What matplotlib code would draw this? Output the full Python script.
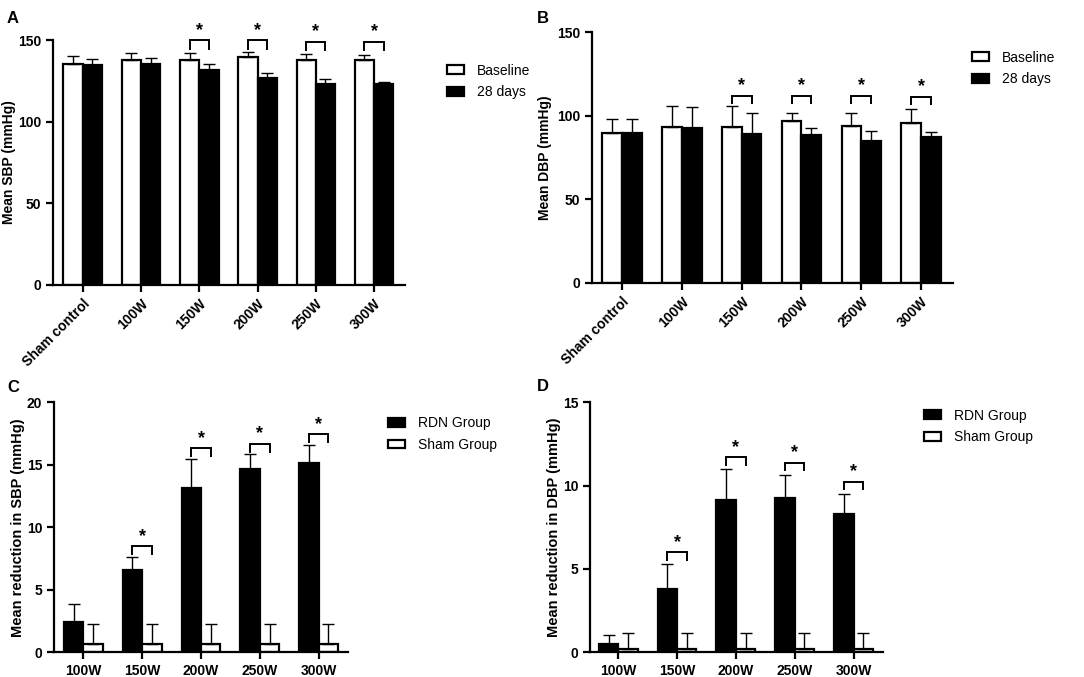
import matplotlib
matplotlib.use("Agg")
import matplotlib.pyplot as plt
import numpy as np

plt.rcParams['font.family'] = ['Liberation Sans', 'DejaVu Sans']

# ---------------- data ----------------
groups_ab = ["Sham control", "100W", "150W", "200W", "250W", "300W"]
sbp_base = [135.1, 138.0, 138.0, 139.4, 137.6, 138.0]
sbp_base_err = [5.3, 3.8, 3.8, 3.5, 3.6, 2.8]
sbp_28 = [134.5, 135.5, 131.4, 126.5, 123.3, 123.3]
sbp_28_err = [3.9, 3.7, 3.9, 3.5, 3.0, 1.2]
sbp_sig = [False, False, True, True, True, True]
sbp_bracket = [150, 150, 150, 150, 149, 149]

dbp_base = [89.5, 93.0, 93.0, 97.0, 94.0, 95.5]
dbp_base_err = [8.4, 12.5, 12.5, 4.5, 7.3, 8.2]
dbp_28 = [89.5, 92.7, 89.3, 88.3, 84.7, 87.3]
dbp_28_err = [8.8, 12.2, 12.0, 4.2, 6.3, 3.0]
dbp_sig = [False, False, True, True, True, True]
dbp_bracket = [112, 112, 112, 112, 112, 111.4]

groups_cd = ["100W", "150W", "200W", "250W", "300W"]
red_sbp_rdn = [2.45, 6.61, 13.15, 14.64, 15.12]
red_sbp_rdn_err = [1.42, 1.04, 2.35, 1.20, 1.47]
red_sbp_sham = [0.69, 0.69, 0.69, 0.69, 0.69]
red_sbp_sham_err = [1.60, 1.60, 1.60, 1.60, 1.60]
red_sbp_sig = [False, True, True, True, True]

red_dbp_rdn = [0.48, 3.80, 9.12, 9.28, 8.30]
red_dbp_rdn_err = [0.54, 1.48, 1.88, 1.38, 1.22]
red_dbp_sham = [0.20, 0.20, 0.20, 0.20, 0.20]
red_dbp_sham_err = [0.98, 0.98, 0.98, 0.98, 0.98]
red_dbp_sig = [False, True, True, True, True]

# ---------------- figure ----------------
fig = plt.figure(figsize=(10.84, 6.77), dpi=100)

W, H = 1084, 677
def rect(l, r, t, b):
    return [l / W, 1 - b / H, (r - l) / W, (b - t) / H]

axA = fig.add_axes(rect(53, 405, 40, 285))
axB = fig.add_axes(rect(591.7, 953, 32, 283))
axC = fig.add_axes(rect(54, 348, 402.3, 652.3))
axD = fig.add_axes(rect(590, 883, 402.3, 652.3))

BW = 0.33
LW = 1.6

def style_axis(ax):
    for s in ['top', 'right']:
        ax.spines[s].set_visible(False)
    for s in ['left', 'bottom']:
        ax.spines[s].set_linewidth(1.6)
    ax.tick_params(axis='both', width=1.6, length=5, labelsize=10, direction='out')
    for lab in ax.get_yticklabels() + ax.get_xticklabels():
        lab.set_fontweight('bold')

def bracket(ax, x, y, leg, star_off):
    xs = [x - BW / 2, x - BW / 2, x + BW / 2, x + BW / 2]
    ys = [y - leg, y, y, y - leg]
    ax.plot(xs, ys, color='black', lw=1.4, clip_on=False, zorder=5,
            solid_capstyle='butt', solid_joinstyle='miter')
    ax.annotate('*', xy=(x, y), xytext=(0, star_off), textcoords='offset points',
                ha='center', va='center', fontsize=13, fontweight='bold',
                annotation_clip=False)

def pair_bars(ax, x, v1, e1, c1, v2, e2, c2, lab1, lab2):
    b1 = ax.bar(x - BW / 2, v1, BW, facecolor=c1, edgecolor='black', linewidth=LW,
                label=lab1, zorder=2)
    b2 = ax.bar(x + BW / 2, v2, BW, facecolor=c2, edgecolor='black', linewidth=LW,
                label=lab2, zorder=2)
    ax.errorbar(x - BW / 2, v1, yerr=[np.zeros(len(v1)), e1], fmt='none',
                ecolor='black', elinewidth=1.0, capsize=4, capthick=1.0, zorder=3)
    ax.errorbar(x + BW / 2, v2, yerr=[np.zeros(len(v2)), e2], fmt='none',
                ecolor='black', elinewidth=1.0, capsize=4, capthick=1.0, zorder=3)
    return b1, b2

# ---- Panel A ----
x6 = np.arange(len(groups_ab))
hA = pair_bars(axA, x6, sbp_base, sbp_base_err, 'white', sbp_28, sbp_28_err, 'black',
               'Baseline', '28 days')
axA.set_xlim(-0.51, 5.53)
axA.set_ylim(0, 150)
axA.set_yticks([0, 50, 100, 150])
axA.set_xticks(x6)
axA.set_xticklabels(groups_ab, rotation=45, ha='right', rotation_mode='anchor')
axA.set_ylabel('Mean SBP (mmHg)', fontsize=10, fontweight='bold', labelpad=1.5)
style_axis(axA)
for i, s in enumerate(sbp_sig):
    if s:
        bracket(axA, x6[i], sbp_bracket[i], 6, 7)

# ---- Panel B ----
hB = pair_bars(axB, x6, dbp_base, dbp_base_err, 'white', dbp_28, dbp_28_err, 'black',
               'Baseline', '28 days')
axB.set_xlim(-0.51, 5.535)
axB.set_ylim(0, 150)
axB.set_yticks([0, 50, 100, 150])
axB.set_xticks(x6)
axB.set_xticklabels(groups_ab, rotation=45, ha='right', rotation_mode='anchor')
axB.set_ylabel('Mean DBP (mmHg)', fontsize=10, fontweight='bold', labelpad=3)
style_axis(axB)
for i, s in enumerate(dbp_sig):
    if s:
        bracket(axB, x6[i], dbp_bracket[i], 5.2, 7.5)

# ---- Panel C ----
x5 = np.arange(len(groups_cd))
hC = pair_bars(axC, x5, red_sbp_rdn, red_sbp_rdn_err, 'black', red_sbp_sham,
               red_sbp_sham_err, 'white', 'RDN Group', 'Sham Group')
axC.set_xlim(-0.5, 4.5)
axC.set_ylim(0, 20)
axC.set_yticks([0, 5, 10, 15, 20])
axC.set_xticks(x5)
axC.set_xticklabels(groups_cd)
axC.set_ylabel('Mean reduction in SBP (mmHg)', fontsize=10.5, fontweight='bold', labelpad=1)
style_axis(axC)
for i, s in enumerate(red_sbp_sig):
    if s:
        top = max(red_sbp_rdn[i] + red_sbp_rdn_err[i], red_sbp_sham[i] + red_sbp_sham_err[i])
        bracket(axC, x5[i], top + 0.85, 0.72, 7)

# ---- Panel D ----
hD = pair_bars(axD, x5, red_dbp_rdn, red_dbp_rdn_err, 'black', red_dbp_sham,
               red_dbp_sham_err, 'white', 'RDN Group', 'Sham Group')
axD.set_xlim(-0.48, 4.5)
axD.set_ylim(0, 15)
axD.set_yticks([0, 5, 10, 15])
axD.set_xticks(x5)
axD.set_xticklabels(groups_cd)
axD.set_ylabel('Mean reduction in DBP (mmHg)', fontsize=10.5, fontweight='bold', labelpad=1)
style_axis(axD)
for i, s in enumerate(red_dbp_sig):
    if s:
        top = max(red_dbp_rdn[i] + red_dbp_rdn_err[i], red_dbp_sham[i] + red_dbp_sham_err[i])
        bracket(axD, x5[i], top + 0.72, 0.52, 7)

# ---- Legends ----
def add_legend(handles, labels, lx, cy):
    leg = fig.legend(handles, labels, loc='center left',
                     bbox_to_anchor=(lx / W, 1 - cy / H), frameon=False,
                     fontsize=10, handlelength=1.25, handleheight=0.6,
                     handletextpad=0.9, labelspacing=0.55, borderpad=0,
                     borderaxespad=0)
    return leg

add_legend(list(hA), ['Baseline', '28 days'], 447, 81.5)
add_legend(list(hB), ['Baseline', '28 days'], 972, 68.5)
add_legend(list(hC), ['RDN Group', 'Sham Group'], 388, 434)
add_legend(list(hD), ['RDN Group', 'Sham Group'], 924, 426.5)

# ---- Panel letters ----
for lab, px, py in [('A', 7, 11), ('B', 537, 11), ('C', 7, 380), ('D', 537, 379)]:
    fig.text(px / W, 1 - py / H, lab, fontsize=12, fontweight='bold', va='top', ha='left')

fig.savefig('out.png', dpi=100)
